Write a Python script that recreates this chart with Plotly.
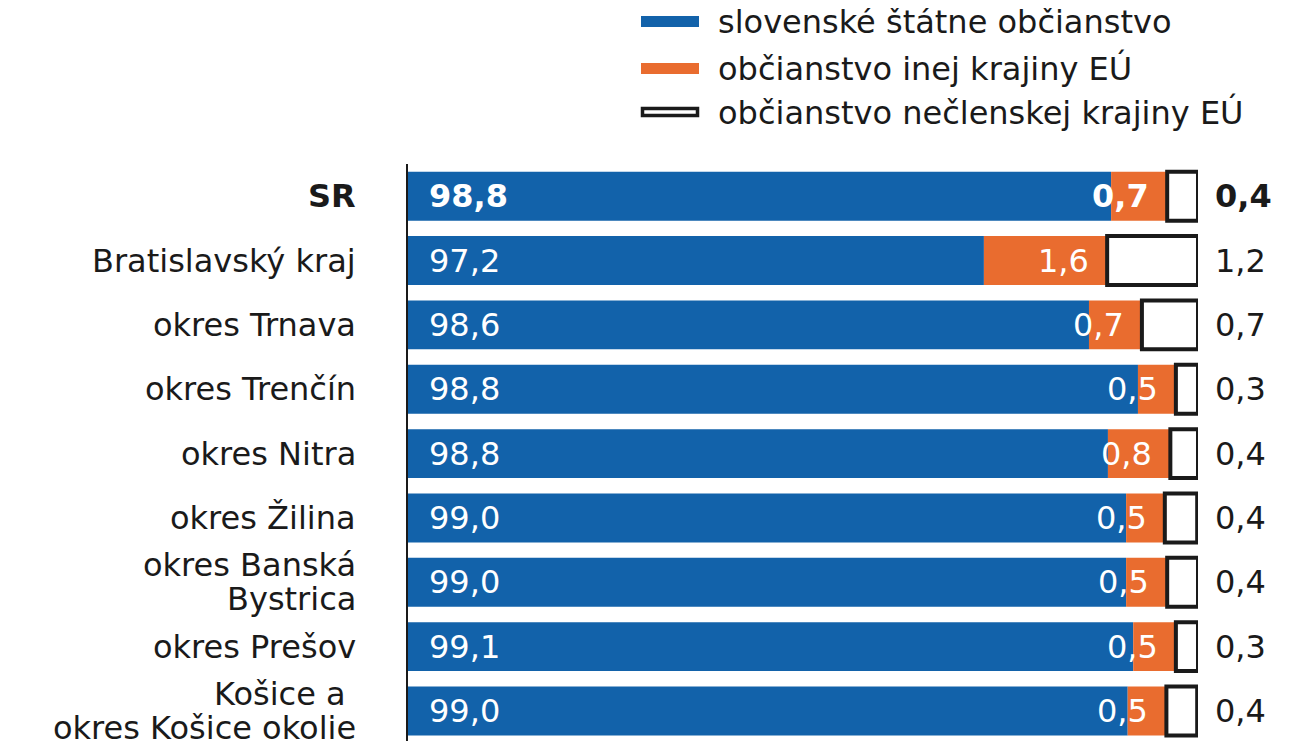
import plotly.graph_objects as go

# ---- data ----
categories = [["<b>SR</b>"], ["Bratislavský kraj"], ["okres Trnava"], ["okres Trenčín"],
              ["okres Nitra"], ["okres Žilina"], ["okres Banská", "Bystrica"], ["okres Prešov"],
              ["Košice a ", "okres Košice okolie"]]
# bar lengths (% of population)
slovak = [98.90, 97.29, 98.62, 99.24, 98.86, 99.09, 99.09, 99.18, 99.11]
other_eu = [0.71, 1.56, 0.67, 0.48, 0.79, 0.49, 0.52, 0.54, 0.49]
non_eu = [0.39, 1.15, 0.71, 0.28, 0.35, 0.41, 0.39, 0.28, 0.39]
# printed labels
slovak_lbl = ["98,8", "97,2", "98,6", "98,8", "98,8", "99,0", "99,0", "99,1", "99,0"]
other_eu_lbl = ["0,7", "1,6", "0,7", "0,5", "0,8", "0,5", "0,5", "0,5", "0,5"]
non_eu_lbl = ["0,4", "1,2", "0,7", "0,3", "0,4", "0,4", "0,4", "0,3", "0,4"]
series_names = ["slovenské štátne občianstvo", "občianstvo inej krajiny EÚ",
                "občianstvo nečlenskej krajiny EÚ"]

X0, X1 = 90, 100
BLUE = "#1262AA"
ORANGE = "#E96C2F"
DARK = "#1a1a1a"
FONT = "DejaVu Sans"
FS = 32

OFF = 8  # page body margin
W, H = 1297 - OFF, 741 - OFF
ML, MR, MT, MB = 408 - OFF, 99, 164 - OFF, 0

ys = list(range(len(categories)))

fig = go.Figure()
fig.add_trace(go.Bar(y=ys, x=[v - X0 for v in slovak], base=X0, orientation="h",
                     marker=dict(color=BLUE, line=dict(width=0)), name=series_names[0],
                     showlegend=False, hoverinfo="skip"))
base2 = slovak
fig.add_trace(go.Bar(y=ys, x=other_eu, base=base2, orientation="h",
                     marker=dict(color=ORANGE, line=dict(width=0)), name=series_names[1],
                     showlegend=False, hoverinfo="skip"))
base3 = [a + b for a, b in zip(slovak, other_eu)]
fig.add_trace(go.Bar(y=ys, x=non_eu, base=base3, orientation="h",
                     marker=dict(color="white", line=dict(width=4, color=DARK)),
                     name=series_names[2], showlegend=False, hoverinfo="skip"))

ann = []
for i in ys:
    bold = i == 0

    def fmt(s):
        return f"<b>{s}</b>" if bold else s
    ann.append(dict(x=X0, y=i, xref="x", yref="y", text=fmt(slovak_lbl[i]), showarrow=False,
                    xanchor="left", yanchor="middle", xshift=19,
                    font=dict(family=FONT, size=FS, color="white")))
    ann.append(dict(x=base3[i], y=i, xref="x", yref="y", text=fmt(other_eu_lbl[i]), showarrow=False,
                    xanchor="right", yanchor="middle", xshift=-16,
                    font=dict(family=FONT, size=FS, color="white")))
    ann.append(dict(x=X1, y=i, xref="x", yref="y", text=fmt(non_eu_lbl[i]),
                    showarrow=False, xanchor="left", yanchor="middle", xshift=15,
                    font=dict(family=FONT, size=FS, color=DARK)))
    # category labels (right aligned, left of axis)
    lines = categories[i]
    n = len(lines)
    for j, line in enumerate(lines):
        ann.append(dict(x=0, y=i, xref="paper", yref="y", text=line, showarrow=False,
                        xanchor="right", yanchor="middle", xshift=-50,
                        yshift=(n - 1) * 17 - j * 34,
                        font=dict(family=FONT, size=FS, color=DARK)))

# manual legend (page pixel layout -> paper coords)
pw, ph = W - ML - MR, H - MT - MB


def px(xp):
    return (xp - OFF - ML) / pw


def py(yp):
    return (H - MB - (yp - OFF)) / ph


shapes = []
leg_rows = [21.5, 68.5, 112]
colors = [BLUE, ORANGE, "white"]
for k, (yy, c) in enumerate(zip(leg_rows, colors)):
    if k < 2:
        shapes.append(dict(type="rect", xref="paper", yref="paper", x0=px(641), x1=px(699),
                           y0=py(yy + 5.5), y1=py(yy - 5.5), fillcolor=c, line=dict(width=0)))
    else:
        shapes.append(dict(type="rect", xref="paper", yref="paper", x0=px(642.5), x1=px(697.5),
                           y0=py(yy + 3.5), y1=py(yy - 3.5), fillcolor="white",
                           line=dict(width=3.5, color=DARK)))
    ann.append(dict(x=px(716), y=py(yy), xref="paper", yref="paper", text=series_names[k],
                    showarrow=False, xanchor="left", yanchor="middle",
                    font=dict(family=FONT, size=FS, color=DARK)))

fig.update_layout(
    width=W, height=H, margin=dict(l=ML, r=MR, t=MT, b=MB, pad=0, autoexpand=False),
    paper_bgcolor="white", plot_bgcolor="white",
    barmode="overlay", bargap=0.24,
    xaxis=dict(range=[X0, X1], visible=False, showgrid=False, zeroline=False,
               fixedrange=True, automargin=False),
    yaxis=dict(range=[len(categories) - 1 + 0.466, -0.5], tickvals=ys, showticklabels=False,
               showline=True, linecolor=DARK, linewidth=2, ticks="", showgrid=False,
               zeroline=False, automargin=False, fixedrange=True),
    annotations=ann, shapes=shapes, showlegend=False,
    font=dict(family=FONT, size=FS, color=DARK),
)

fig.write_html("out.html")
